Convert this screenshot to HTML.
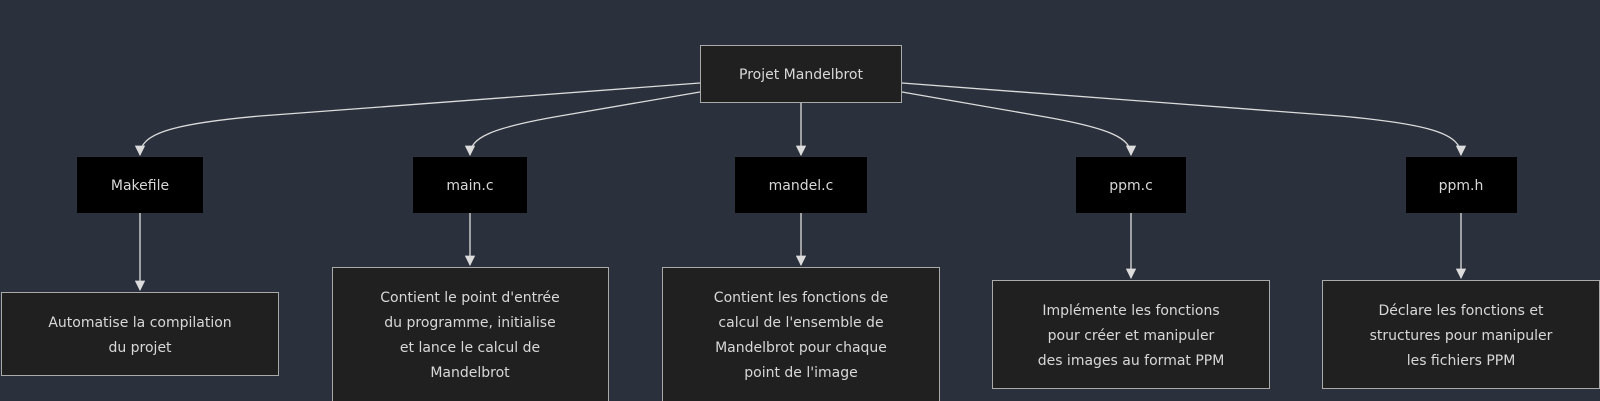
<!DOCTYPE html>
<html><head><meta charset="utf-8"><style>
html,body{margin:0;padding:0;background:#2a303c;}
svg{display:block}
text{font-family:"DejaVu Sans","Liberation Sans",sans-serif;font-size:14px;fill:#d8d8d8;text-anchor:middle}
</style></head><body>
<svg width="1600" height="401" viewBox="0 0 1600 401" xmlns="http://www.w3.org/2000/svg">
<defs><marker id="a" viewBox="0 0 10 10" refX="9" refY="5" markerWidth="8" markerHeight="8" orient="auto"><path d="M0,0 L10,5 L0,10 z" fill="#dcdcdc"/></marker></defs>
<g fill="none" stroke="#dcdcdc" stroke-width="1.3">
<path d="M700,83 L260,116 C170,124 140,134 140,155" marker-end="url(#a)"/>
<path d="M700,92 L560,116 C490,128 470,138 470,155" marker-end="url(#a)"/>
<path d="M801,103 L801,155" marker-end="url(#a)"/>
<path d="M902,92 L1040,116 C1110,128 1131,138 1131,155" marker-end="url(#a)"/>
<path d="M902,83 L1340,116 C1430,124 1461,134 1461,155" marker-end="url(#a)"/>
<path d="M140,213 L140,290" marker-end="url(#a)"/>
<path d="M470,213 L470,265" marker-end="url(#a)"/>
<path d="M801,213 L801,265" marker-end="url(#a)"/>
<path d="M1131,213 L1131,278" marker-end="url(#a)"/>
<path d="M1461,213 L1461,278" marker-end="url(#a)"/>
</g>
<rect x="700.5" y="45.5" width="201" height="57" fill="#202020" stroke="#aaa"/>
<text x="801" y="79">Projet Mandelbrot</text>
<g fill="#000">
<rect x="77" y="157" width="126" height="56"/>
<rect x="413" y="157" width="114" height="56"/>
<rect x="735" y="157" width="132" height="56"/>
<rect x="1076" y="157" width="110" height="56"/>
<rect x="1406" y="157" width="111" height="56"/>
</g>
<text x="140" y="190">Makefile</text>
<text x="470" y="190">main.c</text>
<text x="801" y="190">mandel.c</text>
<text x="1131" y="190">ppm.c</text>
<text x="1461" y="190">ppm.h</text>
<g fill="#202020" stroke="#aaa">
<rect x="1.5" y="292.5" width="277" height="83"/>
<rect x="332.5" y="267.5" width="276" height="140"/>
<rect x="662.5" y="267.5" width="277" height="140"/>
<rect x="992.5" y="280.5" width="277" height="108"/>
<rect x="1322.5" y="280.5" width="277" height="108"/>
</g>
<text x="140" y="327">Automatise la compilation</text>
<text x="140" y="352">du projet</text>
<text x="470" y="302">Contient le point d'entrée</text>
<text x="470" y="327">du programme, initialise</text>
<text x="470" y="352">et lance le calcul de</text>
<text x="470" y="377">Mandelbrot</text>
<text x="801" y="302">Contient les fonctions de</text>
<text x="801" y="327">calcul de l'ensemble de</text>
<text x="801" y="352">Mandelbrot pour chaque</text>
<text x="801" y="377">point de l'image</text>
<text x="1131" y="315">Implémente les fonctions</text>
<text x="1131" y="340">pour créer et manipuler</text>
<text x="1131" y="365">des images au format PPM</text>
<text x="1461" y="315">Déclare les fonctions et</text>
<text x="1461" y="340">structures pour manipuler</text>
<text x="1461" y="365">les fichiers PPM</text>
</svg>
</body></html>
